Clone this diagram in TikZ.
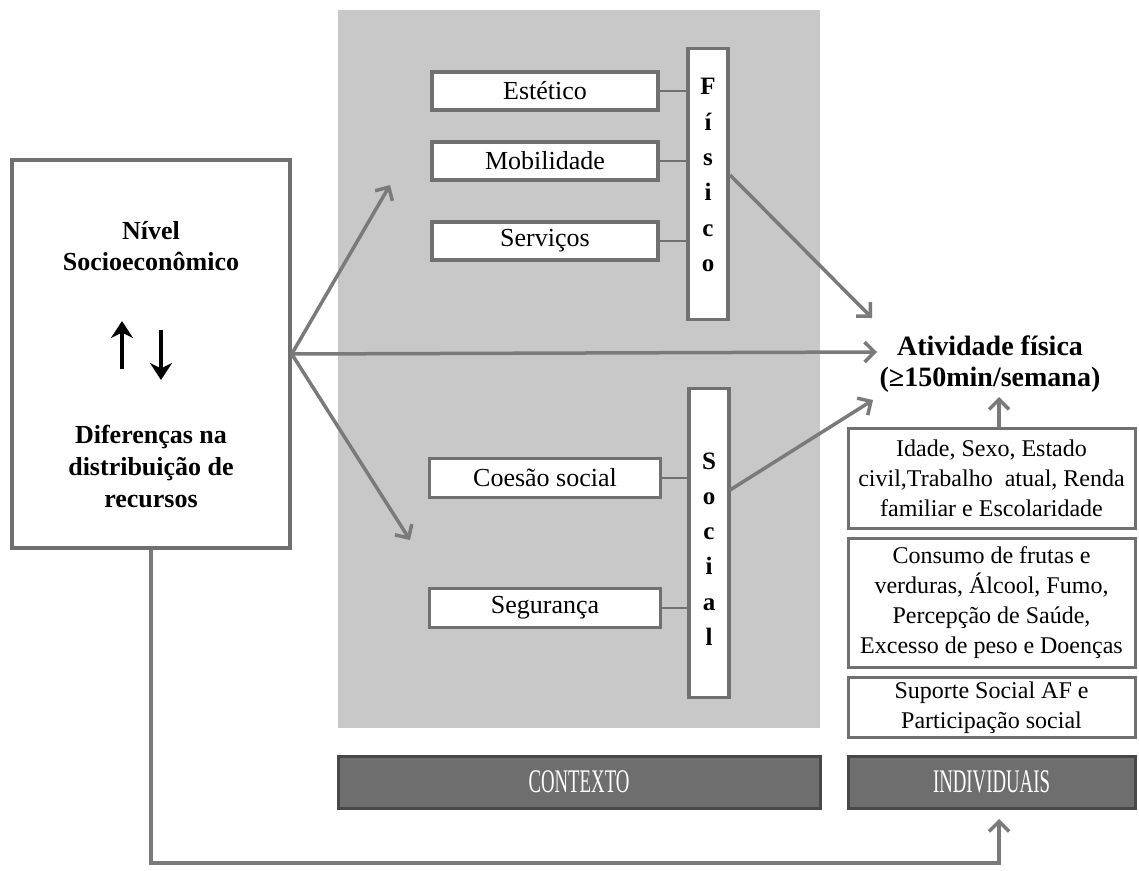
\documentclass[tikz,border=0pt]{standalone}
\usepackage{fontspec}
\setmainfont{Liberation Serif}
\newfontfamily\condfont[FakeStretch=0.57]{Liberation Serif}
\usetikzlibrary{arrows.meta}
\definecolor{bggray}{RGB}{200,200,200}
\definecolor{bordergray}{RGB}{112,112,112}
\definecolor{arrowgray}{RGB}{122,122,122}
\definecolor{darkfill}{RGB}{110,110,110}
\definecolor{darkborder}{RGB}{72,72,72}
\tikzset{
  whitebox/.style={draw=bordergray, line width=3.5pt, fill=white, inner sep=0pt, align=center},
  ctxbox/.style={whitebox, font=\fontsize{26}{30}\selectfont},
  vbox/.style={whitebox, minimum width=40pt},
  indbox/.style={whitebox, line width=3pt, minimum width=287pt, font=\fontsize{24}{30}\selectfont},
  darkbox/.style={draw=darkborder, line width=3pt, fill=darkfill, text=white, inner sep=0pt,
     minimum height=52pt, font=\condfont\fontsize{33}{35}\selectfont},
  arr/.style={draw=arrowgray, line width=3.5pt, -{Straight Barb[length=10pt,width=20pt]}},
  link/.style={draw=bordergray, line width=1.5pt},
  bigarr/.style={draw=black, line width=4pt, -{Stealth[length=17pt,width=22pt]}},
  boldtxt/.style={font=\bfseries\fontsize{26}{31}\selectfont, align=center, inner sep=0pt}
}
\begin{document}
\begin{tikzpicture}[x=1pt,y=-1pt]
\useasboundingbox (0,0) rectangle (1139,870);
\fill[white] (0,0) rectangle (1139,870);
% context background
\node[fill=bggray, minimum width=482pt, minimum height=718pt, inner sep=0pt] (bg) at (579,369) {};
% left box
\node[whitebox, minimum width=278pt, minimum height=388pt] (nse) at (151,354) {};
\node[boldtxt] (nsetxt) at (151,246) {Nível\\Socioeconômico};
\node[boldtxt, font=\bfseries\fontsize{26}{32}\selectfont] (dif) at (151,466) {Diferenças na\\distribuição de\\recursos};
\coordinate (upA) at (122,369);
\coordinate (upB) at (122,321);
\coordinate (dnA) at (161,330);
\coordinate (dnB) at (161,380);
\draw[bigarr] (upA) -- (upB);
\draw[bigarr] (dnA) -- (dnB);
% physical environment
\node[ctxbox, minimum width=226pt, minimum height=38pt] (est) at (545,91) {Estético};
\node[ctxbox, minimum width=226pt, minimum height=38pt] (mob) at (545,161) {Mobilidade};
\node[ctxbox, minimum width=226pt, minimum height=38pt] (ser) at (545,241) {Serviços};
\node[vbox, minimum height=271pt] (fis) at (708,184) {};
\node[font=\bfseries\fontsize{25}{35.3}\selectfont, align=center, inner sep=0pt] (fistxt) at (708,175) {F\\í\\s\\i\\c\\o};
\draw[link] (est.east) -- (fis.west |- est.east);
\draw[link] (mob.east) -- (fis.west |- mob.east);
\draw[link] (ser.east) -- (fis.west |- ser.east);
% social environment
\node[ctxbox, minimum width=231pt, minimum height=39pt] (coe) at (545,478) {Coesão social};
\node[ctxbox, minimum width=231pt, minimum height=39pt] (seg) at (545,608) {Segurança};
\node[vbox, minimum height=309pt] (soc) at (709,543) {};
\node[font=\bfseries\fontsize{25}{35.3}\selectfont, align=center, inner sep=0pt] (soctxt) at (709,549) {S\\o\\c\\i\\a\\l};
\draw[link] (coe.east) -- (soc.west |- coe.east);
\draw[link] (seg.east) -- (soc.west |- seg.east);
% outcome
\node[font=\bfseries\fontsize{28}{31}\selectfont, align=center, inner sep=0pt] (af) at (990,364) {Atividade física\\(≥150min/semana)};
% individual boxes
\node[indbox, minimum height=100pt] (ind1) at (991.5,478) {Idade, Sexo, Estado\\civil,Trabalho\ \ atual, Renda\\familiar e Escolaridade};
\node[indbox, minimum height=129pt] (ind2) at (991.5,602.5) {Consumo de frutas e\\verduras, Álcool, Fumo,\\Percepção de Saúde,\\Excesso de peso e Doenças};
\node[indbox, minimum height=60pt] (ind3) at (991.5,707.5) {Suporte Social AF e\\Participação social};
% labels
\node[darkbox, minimum width=482pt] (ctx) at (579,782) {CONTEXTO};
\node[darkbox, minimum width=287pt] (indl) at (991.5,782) {INDIVIDUAIS};
% arrows
\coordinate (a1) at (390,185);
\coordinate (a2) at (877,352);
\coordinate (a3) at (410,540);
\coordinate (a4s) at (730,175);
\coordinate (a4) at (872,318);
\coordinate (a5s) at (730,490);
\coordinate (a5) at (873,400);
\coordinate (a6s) at (999,428);
\coordinate (a6) at (999,397);
\coordinate (b1) at (151,863);
\coordinate (b2) at (999,863);
\coordinate (b3) at (999,819);
\draw[arr] (nse.east) -- (a1);
\draw[arr] (nse.east) -- (a2);
\draw[arr] (nse.east) -- (a3);
\draw[arr] (a4s) -- (a4);
\draw[arr] (a5s) -- (a5);
\draw[arr] (a6s) -- (a6);
\draw[arr, line join=miter] (nse.south) -- (b1) -- (b2) -- (b3);
\end{tikzpicture}
\end{document}
